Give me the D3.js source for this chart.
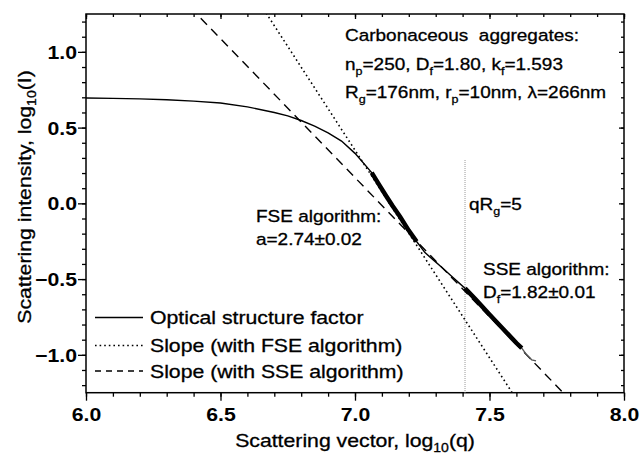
<!DOCTYPE html>
<html>
<head>
<meta charset="utf-8">
<script src="https://cdn.jsdelivr.net/npm/d3@7"></script>
<style>
  body { margin: 0; background: #fff; }
  svg text { font-family: "Liberation Sans", Arial, sans-serif; fill: #000; }
  .heavy { stroke: #000; stroke-width: 0.3px; }
</style>
</head>
<body>
<svg id="chart" width="640" height="454"></svg>
<script>
// data
var qLog = [6.00, 6.10, 6.20, 6.30, 6.40, 6.50, 6.60, 6.70, 6.75, 6.80, 6.85, 6.90, 6.95, 7.00,
            7.062, 7.09, 7.117, 7.14, 7.167, 7.20, 7.229, 7.26, 7.291, 7.32, 7.353, 7.38, 7.409,
            7.45, 7.50, 7.55, 7.60, 7.62, 7.638, 7.657, 7.673];
var intensity = [0.695, 0.693, 0.690, 0.684, 0.675, 0.662, 0.637, 0.600, 0.577, 0.547, 0.510, 0.465, 0.411, 0.330,
                 0.203, 0.122, 0.045, -0.018, -0.087, -0.180, -0.252, -0.325, -0.373, -0.418, -0.472, -0.515, -0.560,
                 -0.637, -0.734, -0.828, -0.922, -0.956, -1.000, -1.033, -1.040];
var fseRange = [7.062, 7.229];   // thick part, first fit
var sseRange = [7.409, 7.620];   // thick part, second fit
var fseFit = [-2.74, 19.531];    // slope, intercept
var sseFit = [-1.835, 13.015];
var qRg5 = 7.409;
var xMajor = [6.0, 6.5, 7.0, 7.5, 8.0];
var yMajor = [-1.0, -0.5, 0.0, 0.5, 1.0];
var xMinor = d3.range(60, 81).map(function(d){ return d / 10; });
var yMinor = d3.range(-12, 13).map(function(d){ return d / 10; });
var legendLabels = ["Optical structure factor", "Slope (with FSE algorithm)", "Slope (with SSE algorithm)"];

var SX = 1.18; // glyphs in the picture are wider than Arial
var pL = 86, pT = 14, pR = 624, pB = 392.7;

var svg = d3.select("#chart");
var x = d3.scaleLinear().domain([6, 8]).range([pL, pR]);
var y = d3.scaleLinear().domain([-1.25, 1.25]).range([pB, pT]);

svg.append("clipPath").attr("id", "clip")
  .append("rect").attr("x", pL).attr("y", pT).attr("width", pR - pL).attr("height", pB - pT);

// text helper: parts = [[str, isSub], ...]
function rich(g, px, py, parts, opt) {
  opt = opt || {};
  var fs = opt.size || 18, sx = opt.sx || SX;
  var t = g.append("text")
    .attr("class", "heavy")
    .attr("xml:space", "preserve")
    .attr("transform", "translate(" + px + "," + py + ")" + (opt.rot ? " rotate(" + opt.rot + ")" : "") + " scale(" + sx + ",1)")
    .attr("font-size", fs)
    .attr("text-anchor", opt.anchor || "start");
  var down = false;
  parts.forEach(function(p){
    var s = t.append("tspan").text(p[0]);
    if (p[1] && !down) { s.attr("font-size", fs * 0.66).attr("dy", 5); down = true; }
    else if (!p[1] && down) { s.attr("dy", -5); down = false; }
  });
  return t;
}

// axes
function styleAxis(g) {
  g.select(".domain").remove();
  g.selectAll("line").attr("stroke", "#000").attr("stroke-width", 1.3);
}
var fmt = d3.format(".1f");
svg.append("g").attr("transform", "translate(0," + pB + ")")
  .call(d3.axisBottom(x).tickValues(xMinor).tickSize(4).tickFormat("")).call(styleAxis);
svg.append("g").attr("transform", "translate(0," + pB + ")")
  .call(d3.axisBottom(x).tickValues(xMajor).tickSize(8).tickFormat(fmt)).call(styleAxis)
  .selectAll("text").attr("y", 28).attr("dy", 0).attr("font-size", 18).attr("font-weight", "bold")
  .attr("transform", "scale(" + SX + ",1)");
svg.append("g").attr("transform", "translate(" + pL + ",0)")
  .call(d3.axisLeft(y).tickValues(yMinor).tickSize(4).tickFormat("")).call(styleAxis);
svg.append("g").attr("transform", "translate(" + pL + ",0)")
  .call(d3.axisLeft(y).tickValues(yMajor).tickSize(8).tickFormat(fmt)).call(styleAxis)
  .selectAll("text").attr("x", -9 / SX).attr("dy", 6.4).attr("font-size", 18).attr("font-weight", "bold")
  .attr("transform", "scale(" + SX + ",1)");
svg.append("g").attr("transform", "translate(0," + pT + ")")
  .call(d3.axisTop(x).tickValues(xMinor).tickSize(-3).tickFormat("")).call(styleAxis);
svg.append("g").attr("transform", "translate(0," + pT + ")")
  .call(d3.axisTop(x).tickValues(xMajor).tickSize(-5).tickFormat("")).call(styleAxis);
svg.append("g").attr("transform", "translate(" + pR + ",0)")
  .call(d3.axisRight(y).tickValues(yMinor).tickSize(-3).tickFormat("")).call(styleAxis);
svg.append("g").attr("transform", "translate(" + pR + ",0)")
  .call(d3.axisRight(y).tickValues(yMajor).tickSize(-5).tickFormat("")).call(styleAxis);

svg.append("rect").attr("x", pL).attr("y", pT).attr("width", pR - pL).attr("height", pB - pT)
  .attr("fill", "none").attr("stroke", "#000").attr("stroke-width", 1.5);

// qRg = 5 marker
svg.append("line").attr("x1", x(qRg5)).attr("x2", x(qRg5)).attr("y1", 160).attr("y2", pB)
  .attr("stroke", "#999").attr("stroke-width", 1).attr("stroke-dasharray", "1,1");

var plot = svg.append("g").attr("clip-path", "url(#clip)");
var pts = qLog.map(function(d, i){ return [d, intensity[i]]; });
var line = d3.line().x(function(d){ return x(d[0]); }).y(function(d){ return y(d[1]); });

// fit lines
function fitLine(f, dash, w) {
  plot.append("path").datum([[6, f[1] + f[0] * 6], [8, f[1] + f[0] * 8]]).attr("d", line)
    .attr("fill", "none").attr("stroke", "#000").attr("stroke-width", w).attr("stroke-dasharray", dash);
}
fitLine(fseFit, "1.6,3", 1.6);
fitLine(sseFit, "9,6", 1.4);

// structure factor
plot.append("path").datum(pts.filter(function(d){ return d[0] <= 7.62; })).attr("d", line)
  .attr("fill", "none").attr("stroke", "#000").attr("stroke-width", 1.4);
plot.append("path").datum(pts.filter(function(d){ return d[0] >= 7.62; })).attr("d", line)
  .attr("fill", "none").attr("stroke", "#555").attr("stroke-width", 1.4);
[fseRange, sseRange].forEach(function(r){
  plot.append("path").datum(pts.filter(function(d){ return d[0] >= r[0] && d[0] <= r[1]; })).attr("d", line)
    .attr("fill", "none").attr("stroke", "#000").attr("stroke-width", 4.5);
});

// annotations
var ann = svg.append("g");
var A = {size: 16.5, sx: 1.15};
rich(ann, 345, 41, [["Carbonaceous  aggregates:"]], A);
rich(ann, 345, 70, [["n"], ["p", 1], ["=250, D"], ["f", 1], ["=1.80, k"], ["f", 1], ["=1.593"]], A);
rich(ann, 345, 98, [["R"], ["g", 1], ["=176nm, r"], ["p", 1], ["=10nm, λ=266nm"]], A);
rich(ann, 256, 222, [["FSE algorithm:"]], A);
rich(ann, 256, 245, [["a=2.74±0.02"]], A);
rich(ann, 469, 210, [["qR"], ["g", 1], ["=5"]], A);
rich(ann, 483, 275, [["SSE algorithm:"]], A);
rich(ann, 483, 298, [["D"], ["f", 1], ["=1.82±0.01"]], A);

// legend
var dashes = [null, "1.6,3", "6,5"];
var legY = [317.5, 345.5, 371];
legendLabels.forEach(function(l, i){
  svg.append("line").attr("x1", 95).attr("x2", 143).attr("y1", legY[i]).attr("y2", legY[i])
    .attr("stroke", "#000").attr("stroke-width", i == 0 ? 1.5 : 1.3).attr("stroke-dasharray", dashes[i]);
  rich(svg, 150, legY[i] + 6.5, [[l]]);
});

// axis titles
rich(svg, (pL + pR) / 2, 447, [["Scattering vector, log"], ["10", 1], ["(q)"]], {anchor: "middle"});
rich(svg, 31, 197, [["Scattering intensity, log"], ["10", 1], ["(I)"]], {anchor: "middle", rot: -90});
</script>
</body>
</html>
